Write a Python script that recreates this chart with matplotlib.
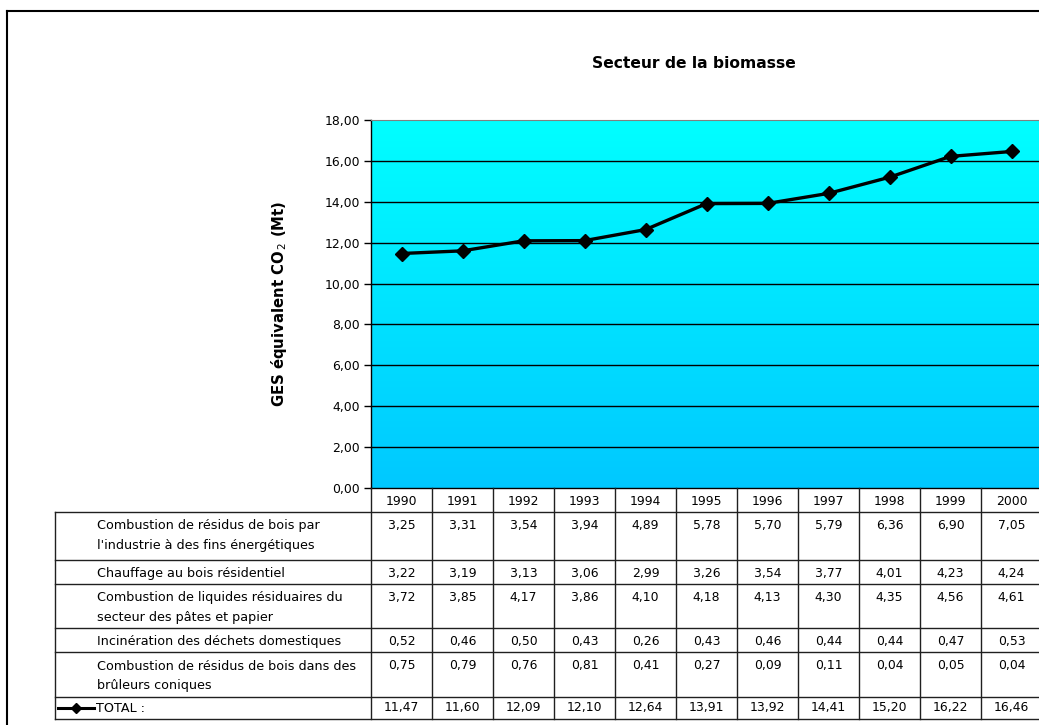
import matplotlib
matplotlib.use("Agg")
import matplotlib.pyplot as plt
import numpy as np
from matplotlib.colors import LinearSegmentedColormap
from matplotlib.lines import Line2D
from matplotlib.ticker import FuncFormatter

plt.rcParams['font.family'] = ['DejaVu Sans']
plt.rcParams['mathtext.fontset'] = 'dejavusans'

# donnees du secteur de la biomasse (Mt eq. CO2)
years = ['1990', '1991', '1992', '1993', '1994', '1995', '1996', '1997', '1998', '1999', '2000']
labels = [
    "Combustion de résidus de bois par\nl'industrie à des fins énergétiques",
    "Chauffage au bois résidentiel",
    "Combustion de liquides résiduaires du\nsecteur des pâtes et papier",
    "Incinération des déchets domestiques",
    "Combustion de résidus de bois dans des\nbrûleurs coniques",
]
bois_industrie = [3.25, 3.31, 3.54, 3.94, 4.89, 5.78, 5.70, 5.79, 6.36, 6.90, 7.05]
chauffage = [3.22, 3.19, 3.13, 3.06, 2.99, 3.26, 3.54, 3.77, 4.01, 4.23, 4.24]
liquides = [3.72, 3.85, 4.17, 3.86, 4.10, 4.18, 4.13, 4.30, 4.35, 4.56, 4.61]
incineration = [0.52, 0.46, 0.50, 0.43, 0.26, 0.43, 0.46, 0.44, 0.44, 0.47, 0.53]
bruleurs = [0.75, 0.79, 0.76, 0.81, 0.41, 0.27, 0.09, 0.11, 0.04, 0.05, 0.04]
total = [11.47, 11.60, 12.09, 12.10, 12.64, 13.91, 13.92, 14.41, 15.20, 16.22, 16.46]

rows = [bois_industrie, chauffage, liquides, incineration, bruleurs]

W, H = 1039, 725
fig = plt.figure(figsize=(W / 100, H / 100), dpi=100)


def fx(x):
    return x / W


def fy(y):
    return 1 - y / H


def fmt(v):
    return f"{v:.2f}".replace('.', ',')


fs = 8.9
fs_lab = 9.2
n = len(years)
col_w = 61.0
x_left = 371
x_right = x_left + n * col_w
plot_top, plot_bot = 120, 488

# zone du graphique
ax = fig.add_axes([fx(x_left), fy(plot_bot), (x_right - x_left) / W, (plot_bot - plot_top) / H])
cmap = LinearSegmentedColormap.from_list('cyan', ['#00C8FF', '#00FFFF'])
grad = np.linspace(0, 1, 256).reshape(-1, 1)
ax.imshow(grad, extent=[0, n, 0, 18], aspect='auto', cmap=cmap, origin='lower', zorder=0)
ax.set_xlim(0, n)
ax.set_ylim(0, 18)
ax.set_yticks(np.arange(0, 19, 2))
ax.yaxis.set_major_formatter(FuncFormatter(lambda v, p: fmt(v)))
ax.set_xticks([])
for yv in np.arange(2, 18, 2):
    ax.axhline(yv, color='black', lw=1, zorder=1)
ax.tick_params(axis='y', direction='out', length=5, width=1, labelsize=fs, pad=3)
ax.spines['top'].set_color('#808080')
ax.spines['right'].set_visible(False)
ax.spines['left'].set_linewidth(1)
ax.spines['bottom'].set_linewidth(1)

xs = np.arange(n) + 0.5
ax.plot(xs, total, color='black', lw=2.4, marker='D', markersize=7, zorder=3, clip_on=False)

ax.set_ylabel('GES équivalent CO$_{\\,2}$ (Mt)', fontsize=10.7, fontweight='bold', labelpad=0)
ax.yaxis.set_label_coords((289 - x_left) / (x_right - x_left), 0.5)

fig.text(fx(694), fy(64), 'Secteur de la biomasse', ha='center', va='center',
         fontsize=11.2, fontweight='bold')

# tableau de donnees
tab_left = 55
year_top = plot_bot
year_bot = 512
row_h = [48, 24, 44, 24, 45, 22]
bounds = [year_bot]
for h in row_h:
    bounds.append(bounds[-1] + h)

tab = fig.add_axes([0, 0, 1, 1], facecolor='none')
tab.set_xlim(0, W)
tab.set_ylim(H, 0)
tab.axis('off')

lc = '#202020'
for i in range(n + 1):
    xv = x_left + i * col_w
    tab.plot([xv, xv], [year_top, bounds[-1]], color=lc, lw=1)
tab.plot([tab_left, tab_left], [year_bot, bounds[-1]], color=lc, lw=1)
for b in bounds:
    tab.plot([tab_left, x_right], [b, b], color=lc, lw=1)

# ligne des annees
for i, yr in enumerate(years):
    tab.text(x_left + (i + 0.5) * col_w, (year_top + year_bot) / 2 + 1, yr,
             ha='center', va='center', fontsize=fs)

for r, (lab, vals) in enumerate(zip(labels, rows)):
    top = bounds[r]
    for j, line in enumerate(lab.split('\n')):
        tab.text(97, top + 14 + j * 20, line, ha='left', va='center', fontsize=fs_lab)
    for i, v in enumerate(vals):
        tab.text(x_left + (i + 0.5) * col_w, top + 13, fmt(v),
                 ha='center', va='center', fontsize=fs)

top = bounds[5]
ty = top + 11
tab.plot([58, 94], [ty, ty], color='black', lw=2.2)
tab.plot([76], [ty], marker='D', color='black', markersize=5.5)
tab.text(96, ty, 'TOTAL :', ha='left', va='center', fontsize=fs_lab)
for i, v in enumerate(total):
    tab.text(x_left + (i + 0.5) * col_w, ty, fmt(v), ha='center', va='center', fontsize=fs)

# cadre exterieur
fig.add_artist(Line2D([fx(7), fx(7)], [fy(11), 0], color='black', lw=1.5))
fig.add_artist(Line2D([fx(7), 1], [fy(11), fy(11)], color='black', lw=1.5))

fig.savefig('out.png', dpi=100)
